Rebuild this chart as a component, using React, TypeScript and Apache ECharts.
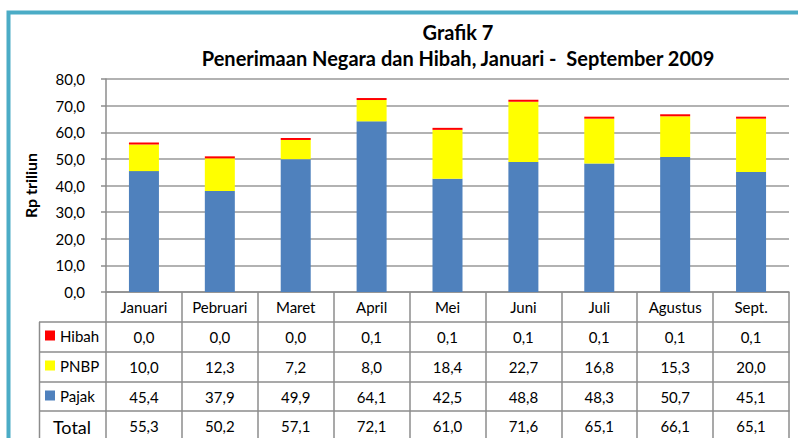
import React, { useEffect, useRef } from "react";
import * as echarts from "echarts";

const months = ["Januari", "Pebruari", "Maret", "April", "Mei", "Juni", "Juli", "Agustus", "Sept."];
const pajak = [45.4, 37.9, 49.9, 64.1, 42.5, 48.8, 48.3, 50.7, 45.1];
const pnbp = [10.0, 12.3, 7.2, 8.0, 18.4, 22.7, 16.8, 15.3, 20.0];
const hibah = [0.0, 0.0, 0.0, 0.1, 0.1, 0.1, 0.1, 0.1, 0.1];
const total = [55.3, 50.2, 57.1, 72.1, 61.0, 71.6, 65.1, 66.1, 65.1];
const seriesNames = ["Pajak", "PNBP", "Hibah"];
const legendOrder = ["Hibah", "PNBP", "Pajak"];
const colors = ["#4F81BD", "#FFFF00", "#FF0000"];
const titleLines = ["Grafik 7", "Penerimaan Negara dan Hibah, Januari -  September 2009"];
const yName = "Rp triliun";
const totalLabel = "Total";

const fmt = (v: number) => v.toFixed(1).replace(".", ",");
const FONT = "Lato";
const LINE = "#8c8c8c";

export default function App() {
  const ref = useRef<HTMLDivElement>(null);
  useEffect(() => {
    if (!ref.current) return;
    const chart = echarts.init(ref.current, undefined, { renderer: "svg" });

    const rowAxis = (data: string[], offset: number, len: number, margin: number, fontSize = 15) => ({
      type: "category",
      gridIndex: 0,
      position: "bottom",
      offset,
      data,
      boundaryGap: true,
      axisLine: { show: true, lineStyle: { color: LINE, width: 1.5 } },
      axisTick: { show: true, interval: 0, length: len, lineStyle: { color: LINE, width: 1.5 } },
      axisLabel: {
        interval: 0,
        margin,
        verticalAlign: "middle",
        fontFamily: FONT,
        fontSize,
        color: "#000",
      },
      splitLine: { show: false },
    });

    const option: any = {
      animation: false,
      textStyle: { fontFamily: FONT },
      title: {
        text: titleLines.join("\n"),
        left: 453,
        top: 14,
        textAlign: "center",
        textStyle: { fontFamily: FONT, fontSize: 20, fontWeight: "bold", color: "#000", lineHeight: 26 },
      },
      legend: {
        orient: "vertical",
        left: 45,
        top: 328,
        padding: 0,
        data: legendOrder,
        icon: "rect",
        itemWidth: 10,
        itemHeight: 10,
        itemGap: 15,
        textStyle: { fontFamily: FONT, fontSize: 15, color: "#000" },
        selectedMode: false,
      },
      grid: { left: 106, right: 9, top: 79, bottom: 146, containLabel: false },
      xAxis: [
        rowAxis(months, 0, 30, 15),
        rowAxis(hibah.map(fmt), 30, 30, 15),
        rowAxis(pnbp.map(fmt), 60, 30, 15),
        rowAxis(pajak.map(fmt), 90, 29, 15),
        rowAxis(total.map(fmt), 119, 40, 15),
      ],
      yAxis: {
        type: "value",
        min: 0,
        max: 80,
        interval: 10,
        name: yName,
        nameLocation: "middle",
        nameGap: 68,
        nameTextStyle: { fontFamily: FONT, fontSize: 16, fontWeight: "bold", color: "#000" },
        axisLine: { show: true, lineStyle: { color: LINE, width: 1.5 } },
        axisTick: { show: true, length: 5, lineStyle: { color: LINE, width: 1.5 } },
        axisLabel: { margin: 21, fontFamily: FONT, fontSize: 15, color: "#000", formatter: (v: number) => fmt(v) },
        splitLine: { show: true, lineStyle: { color: "#999", width: 1.5 } },
      },
      series: [pajak, pnbp, hibah].map((d, i) => ({
        name: seriesNames[i],
        type: "bar",
        stack: "total",
        xAxisIndex: 0,
        barWidth: 30,
        barMinHeight: i === 2 ? 2 : 0,
        itemStyle: { color: colors[i] },
        data: d,
      })),
      graphic: [
        {
          type: "rect",
          shape: { x: 8.5, y: 12.5, width: 1000, height: 1000 },
          style: { fill: "none", stroke: "#4BACC6", lineWidth: 4 },
          silent: true,
        },
        ...[322, 352, 382, 411].map((y) => ({
          type: "line",
          shape: { x1: 39, y1: y, x2: 106, y2: y },
          style: { stroke: LINE, lineWidth: 1.5 },
          silent: true,
        })),
        {
          type: "line",
          shape: { x1: 39.5, y1: 322, x2: 39.5, y2: 440 },
          style: { stroke: LINE, lineWidth: 1.5 },
          silent: true,
        },
        {
          type: "text",
          x: 72,
          y: 427,
          style: {
            text: totalLabel,
            fontFamily: FONT,
            fontSize: 18,
            fill: "#000",
            align: "center",
            verticalAlign: "middle",
          },
          silent: true,
        },
      ],
    };
    chart.setOption(option);
    return () => chart.dispose();
  }, []);
  return (
    <div
      ref={ref}
      style={{ position: "fixed", left: 0, top: 0, width: 798, height: 438, background: "#fff" }}
    />
  );
}
